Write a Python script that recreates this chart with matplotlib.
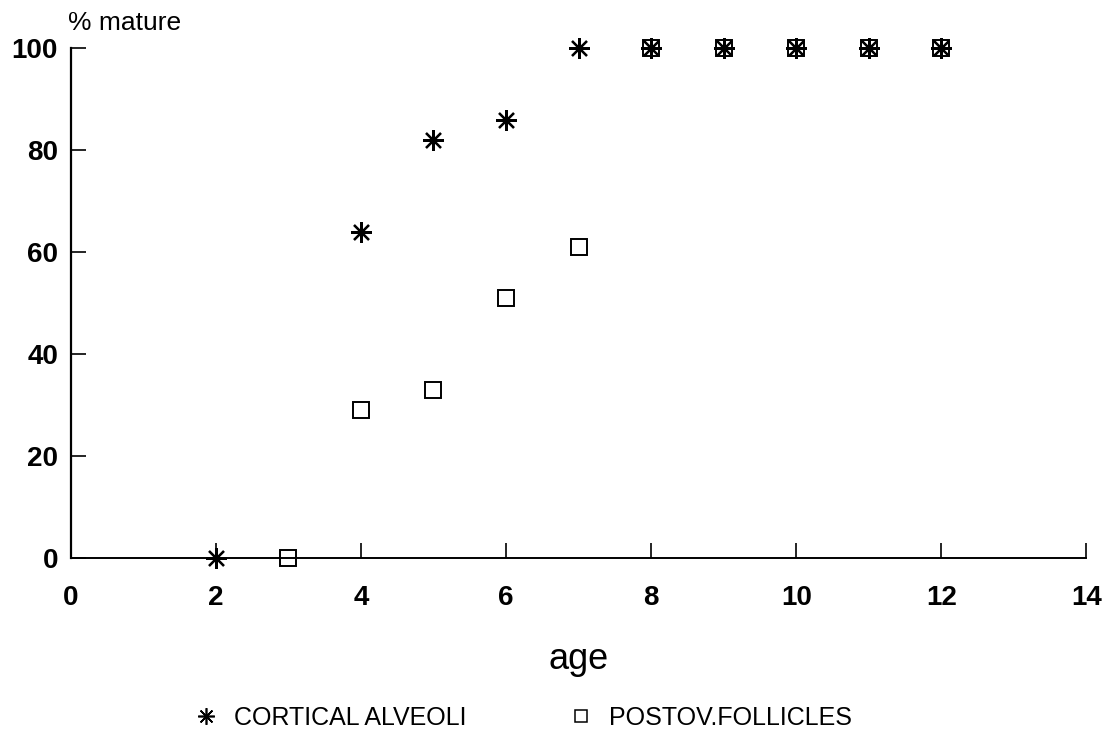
import matplotlib
matplotlib.use("Agg")
import matplotlib.pyplot as plt
from matplotlib.lines import Line2D

plt.rcParams['font.family'] = ['Liberation Sans', 'DejaVu Sans']

ages_cortical = [2, 4, 5, 6, 7, 8, 9, 10, 11, 12]
pct_cortical = [0, 64, 82, 86, 100, 100, 100, 100, 100, 100]
ages_postov = [3, 4, 5, 6, 7, 8, 9, 10, 11, 12]
pct_postov = [0, 29, 33, 51, 61, 100, 100, 100, 100, 100]
xticks = [0, 2, 4, 6, 8, 10, 12, 14]
yticks = [0, 20, 40, 60, 80, 100]

fig = plt.figure(figsize=(11.03, 7.30), dpi=100)
ax = fig.add_axes([0.064, 0.236, 0.921, 0.698])

star = (8, 2, 0)
ax.plot(ages_cortical, pct_cortical, linestyle='none', marker=star,
        markersize=15, markeredgewidth=1.6, color='black', clip_on=False)
ax.plot(ages_postov, pct_postov, linestyle='none', marker='s',
        markersize=12, markeredgewidth=1.4, markerfacecolor='none',
        markeredgecolor='black', clip_on=False)

ax.set_xlim(0, 14)
ax.set_ylim(0, 100)
ax.set_xticks(xticks)
ax.set_yticks(yticks)
ax.spines['top'].set_visible(False)
ax.spines['right'].set_visible(False)
ax.spines['left'].set_linewidth(1.6)
ax.spines['bottom'].set_linewidth(1.4)
ax.tick_params(direction='in', length=11, width=1.2, labelsize=20)
ax.tick_params(axis='x', pad=20)
ax.tick_params(axis='y', pad=9)
for lab in ax.get_xticklabels() + ax.get_yticklabels():
    lab.set_fontweight('bold')

ax.set_xlabel('age', fontsize=26, labelpad=22)
fig.text(0.062, 0.969, '% mature', fontsize=19, ha='left', va='center')

handles = [
    Line2D([], [], linestyle='none', marker=star, markersize=12,
           markeredgewidth=1.2, color='black'),
    Line2D([], [], linestyle='none', marker='s', markersize=9,
           markeredgewidth=1.1, markerfacecolor='none', markeredgecolor='black'),
]
fig.legend(handles, ['CORTICAL ALVEOLI', 'POSTOV.FOLLICLES'],
           loc='center', bbox_to_anchor=(0.474, 0.017), ncol=2, frameon=False,
           fontsize=18, handlelength=1.0, handletextpad=0.6, columnspacing=4.1)

fig.savefig('out.png', dpi=100)
